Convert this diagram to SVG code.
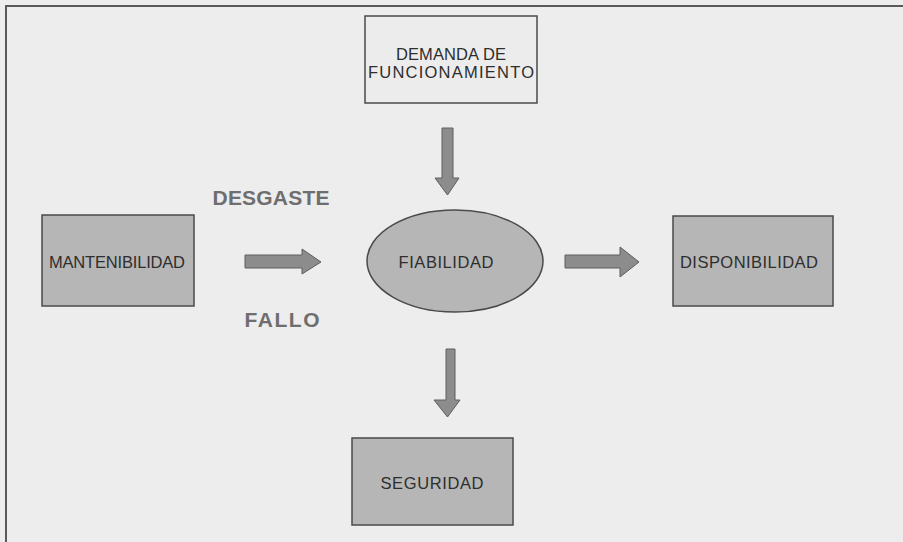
<svg xmlns="http://www.w3.org/2000/svg" width="903" height="542" viewBox="0 0 903 542">
<style>
.box{fill:#b6b6b6;stroke:#4a4a4a;stroke-width:1.5}
.lbl{font-family:"Liberation Sans",Arial,sans-serif;font-size:16.5px;fill:#2e2e2e;text-anchor:middle}
.big{font-family:"Liberation Sans",Arial,sans-serif;font-size:21px;font-weight:bold;fill:#6e6e6e;text-anchor:middle}
.arr{fill:#8c8c8c;stroke:#5e5e5e;stroke-width:1}
</style>
<rect x="0" y="0" width="903" height="542" fill="#ededed"/>
<path d="M6 542 V6 H903" fill="none" stroke="#5a5a5a" stroke-width="2"/>
<g id="demanda">
<rect x="365" y="16" width="172" height="87" fill="#ececec" stroke="#4a4a4a" stroke-width="1.5"/>
<text class="lbl" x="451" y="60" textLength="110">DEMANDA DE</text>
<text class="lbl" x="451" y="78" textLength="166">FUNCIONAMIENTO</text>
</g>
<g id="mantenibilidad">
<rect class="box" x="42" y="215" width="152" height="91"/>
<text class="lbl" x="117" y="268" textLength="136">MANTENIBILIDAD</text>
</g>
<g id="fiabilidad">
<ellipse class="box" cx="455" cy="261" rx="88" ry="51"/>
<text class="lbl" x="446" y="268" textLength="95">FIABILIDAD</text>
</g>
<g id="disponibilidad">
<rect class="box" x="673" y="216" width="160" height="90"/>
<text class="lbl" x="749" y="268" textLength="138">DISPONIBILIDAD</text>
</g>
<g id="seguridad">
<rect class="box" x="352" y="438" width="161" height="87"/>
<text class="lbl" x="432" y="489" textLength="103">SEGURIDAD</text>
</g>
<g id="desgaste"><text class="big" x="271" y="205" textLength="117">DESGASTE</text></g>
<g id="fallo"><text class="big" x="282" y="327" textLength="75">FALLO</text></g>
<g id="connectors">
<polygon class="arr" points="442,128 453,128 453,178 459,178 447.5,195 435,178 442,178"/>
<polygon class="arr" points="245,255 302,255 302,249 321,262 302,274 302,268 245,268"/>
<polygon class="arr" points="565,255 620,255 620,247 639,262 620,277 620,268 565,268"/>
<polygon class="arr" points="446,349 455,349 455,400 460,400 447.5,417 434,400 446,400"/>
</g>
</svg>
